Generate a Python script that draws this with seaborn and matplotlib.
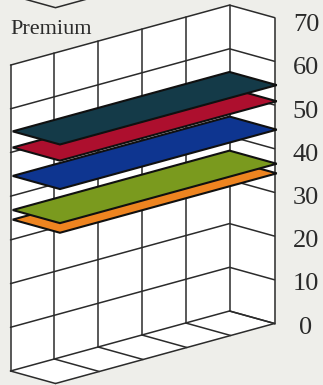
import matplotlib
matplotlib.use("Agg")
import matplotlib.pyplot as plt
import numpy as np
import pandas as pd
import seaborn as sns

# Chart content
panel_title = "Premium"
value_ticks = [0, 10, 20, 30, 40, 50, 60, 70]
series_names = ["Orange", "Green", "Blue", "Red", "Teal"]
series_levels = [34.5, 36.7, 44.5, 51.0, 54.7]
series_colors = ["#ee8420", "#7a9a1e", "#0e3590", "#ad0f2e", "#143a48"]
category_edges = [0, 1, 2, 3, 4, 5]

# Oblique projection of (category, depth, value) on to the page
ORIGIN = np.array([10.5, 371.0])
CAT_STEP = np.array([43.8, -12.0])
DEPTH_STEP = np.array([45.0, 12.5])
VALUE_STEP = np.array([0.0, -4.37])
PAPER = "#eeeeea"
INK = "#2b2b2b"


def project(cat, depth, value):
    return ORIGIN + cat * CAT_STEP + depth * DEPTH_STEP + value * VALUE_STEP


def outline(points):
    return np.array([project(*p) for p in points])


sns.set_theme(style="white", rc={"figure.facecolor": PAPER, "axes.facecolor": PAPER})

fig = plt.figure(figsize=(3.23, 3.85), dpi=100)
ax = fig.add_axes([0, 0, 1, 1])
ax.set_xlim(0, 323)
ax.set_ylim(385, 0)
ax.axis("off")

top = value_ticks[-1]
end = category_edges[-1]

# White box: back wall, side wall and floor
for corners in (
    [(0, 0, 0), (end, 0, 0), (end, 0, top), (0, 0, top)],
    [(end, 0, 0), (end, 1, 0), (end, 1, top), (end, 0, top)],
    [(0, 0, 0), (end, 0, 0), (end, 1, 0), (0, 1, 0)],
):
    poly = outline(corners)
    ax.fill(poly[:, 0], poly[:, 1], color="white", lw=0, zorder=1)

# Grid lines, collected as one long table for seaborn
segments = []
for v in value_ticks:
    segments.append([(0, 0, v), (end, 0, v), (end, 1, v)])
for c in category_edges:
    segments.append([(c, 0, 0), (c, 0, top)])
    segments.append([(c, 0, 0), (c, 1, 0)])
segments.append([(end, 1, 0), (end, 1, top)])
segments.append([(0, 1, 0), (end, 1, 0)])

rows = []
for i, seg in enumerate(segments):
    for order, p in enumerate(outline(seg)):
        rows.append({"segment": i, "order": order, "px": p[0], "py": p[1]})
grid = pd.DataFrame(rows)
sns.lineplot(data=grid, x="px", y="py", units="segment", estimator=None, sort=False,
             color=INK, lw=1.1, ax=ax, legend=False, zorder=2)
ax.set_xlim(0, 323)
ax.set_ylim(385, 0)
ax.axis("off")

# Floating level planes, lowest first
for level, color in zip(series_levels, series_colors):
    poly = outline([(0.05, 0, level), (0.05, 1.05, level), (5, 1.05, level), (5, 0, level)])
    ax.fill(poly[:, 0], poly[:, 1], facecolor=color, edgecolor="#101010", lw=1.5,
            joinstyle="miter", zorder=3)

# Floor corner of the panel stacked above
above = outline([(0, 0, 86), (0, 1, 86), (5, 1, 86)])
ax.plot(above[:, 0], above[:, 1], color=INK, lw=1.1, zorder=2)

serif = ["Liberation Serif", "DejaVu Serif"]
ax.text(10, 30, panel_title, family=serif, fontsize=16, color="#2a2a2a",
        ha="left", va="center", zorder=4)
for v in value_ticks:
    y = project(end, 1, v)[1] + 4 + v * 0.05
    ax.text(306, y, str(v), family=serif, fontsize=19, color="#2a2a2a",
            ha="center", va="center", zorder=4)

fig.savefig("out.png", dpi=100, facecolor=PAPER)
